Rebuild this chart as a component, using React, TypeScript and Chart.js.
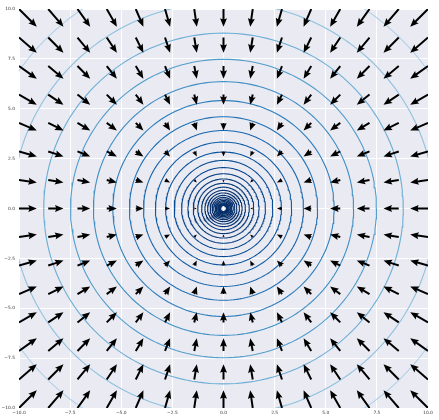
import React, { useEffect, useRef } from "react";
import { Chart, registerables } from "chart.js";

Chart.register(...registerables);

// Quiver grid positions (data units)
const gridX = [-10, -8.57, -7.14, -5.71, -4.29, -2.86, -1.43, 0, 1.43, 2.86, 4.29, 5.71, 7.14, 8.57, 10];
const gridY = [-10, -8.57, -7.14, -5.71, -4.29, -2.86, -1.43, 0, 1.43, 2.86, 4.29, 5.71, 7.14, 8.57, 10];
// Arrow components: U per column, V per row (arrows point toward the origin)
const arrowU = [10, 8.57, 7.14, 5.71, 4.29, 2.86, 1.43, 0, -1.43, -2.86, -4.29, -5.71, -7.14, -8.57, -10];
const arrowV = [10, 8.57, 7.14, 5.71, 4.29, 2.86, 1.43, 0, -1.43, -2.86, -4.29, -5.71, -7.14, -8.57, -10];
// Contour circle radii (outermost first)
const contourRadii = [
  12.15, 10.33, 8.79, 7.48, 6.36, 5.41, 4.6, 3.91, 3.33, 2.83, 2.41, 2.05, 1.74, 1.48,
  1.26, 1.07, 0.91, 0.78, 0.66, 0.56, 0.48, 0.41, 0.35, 0.29, 0.25, 0.21, 0.18, 0.15,
];
const tickValues = [-10, -7.5, -5, -2.5, 0, 2.5, 5, 7.5, 10];

// ---- styling ----
const BLUES = ["#f7fbff", "#deebf7", "#c6dbef", "#9ecae1", "#6baed6", "#4292c6", "#2171b5", "#08519c", "#08306b"];
function hexToRgb(h: string) {
  const n = parseInt(h.slice(1), 16);
  return [(n >> 16) & 255, (n >> 8) & 255, n & 255];
}
function blues(t: number) {
  const s = Math.max(0, Math.min(1, t)) * (BLUES.length - 1);
  const i = Math.min(BLUES.length - 2, Math.floor(s));
  const f = s - i;
  const a = hexToRgb(BLUES[i]);
  const b = hexToRgb(BLUES[i + 1]);
  const c = a.map((v, k) => Math.round(v + (b[k] - v) * f));
  return `rgb(${c[0]},${c[1]},${c[2]})`;
}
function ringColor(i: number, n: number) {
  const p = i / (n - 1);
  return blues(0.32 + 0.68 * (1 - Math.pow(1 - p, 4)));
}

const PX_PER_UNIT = 1.78;
const SHAFT_W = 2.0;
const HEAD_LEN = 8.5;
const HEAD_AXIS = 7.5;
const HEAD_W = 7;

const fmt = (v: number) => {
  const s = Number(v).toFixed(1);
  return s.startsWith("-") ? "\u2212" + s.slice(1) : s;
};

const bgPlugin = {
  id: "axesBg",
  beforeDraw(chart: any) {
    const { ctx, chartArea } = chart;
    ctx.save();
    ctx.fillStyle = "#EAEAF2";
    ctx.fillRect(chartArea.left, chartArea.top, chartArea.right - chartArea.left, chartArea.bottom - chartArea.top);
    ctx.restore();
  },
};

const quiverPlugin = {
  id: "quiver",
  afterDatasetsDraw(chart: any) {
    const { ctx, chartArea, scales } = chart;
    const xs = scales.x;
    const ys = scales.y;
    ctx.save();
    ctx.beginPath();
    ctx.rect(chartArea.left, chartArea.top, chartArea.right - chartArea.left, chartArea.bottom - chartArea.top);
    ctx.clip();
    ctx.fillStyle = "#000";
    gridY.forEach((yv, j) => {
      gridX.forEach((xv, i) => {
        const u = arrowU[i];
        const v = arrowV[j];
        const mag = Math.hypot(u, v);
        if (mag === 0) return;
        const L = mag * PX_PER_UNIT;
        const px = xs.getPixelForValue(xv);
        const py = ys.getPixelForValue(yv);
        const ang = Math.atan2(-v, u);
        let len = L;
        let s = 1;
        if (L < HEAD_LEN) {
          len = HEAD_LEN;
          s = L / HEAD_LEN;
        }
        const pts = [
          [0, -SHAFT_W / 2],
          [len - HEAD_AXIS, -SHAFT_W / 2],
          [len - HEAD_LEN, -HEAD_W / 2],
          [len, 0],
          [len - HEAD_LEN, HEAD_W / 2],
          [len - HEAD_AXIS, SHAFT_W / 2],
          [0, SHAFT_W / 2],
        ];
        const c = Math.cos(ang);
        const sn = Math.sin(ang);
        ctx.beginPath();
        pts.forEach(([a, b], k) => {
          const ax = a * s;
          const by = b * s;
          const X = px + ax * c - by * sn;
          const Y = py + ax * sn + by * c;
          if (k === 0) ctx.moveTo(X, Y);
          else ctx.lineTo(X, Y);
        });
        ctx.closePath();
        ctx.fill();
      });
    });
    ctx.restore();
  },
};

export default function App() {
  const ref = useRef<HTMLCanvasElement | null>(null);
  useEffect(() => {
    if (!ref.current) return;
    const n = contourRadii.length;
    const datasets = contourRadii.map((r, i) => {
      const data: { x: number; y: number }[] = [];
      for (let d = 0; d <= 360; d += 2) {
        const t = (d * Math.PI) / 180;
        data.push({ x: r * Math.cos(t), y: r * Math.sin(t) });
      }
      return {
        data,
        showLine: true,
        borderColor: ringColor(i, n),
        borderWidth: 1.1,
        pointRadius: 0,
        tension: 0,
        fill: false,
      };
    });
    const tickFont = { family: "DejaVu Sans", size: 4.4 };
    const chart = new Chart(ref.current, {
      type: "scatter",
      data: { datasets },
      options: {
        animation: false,
        responsive: false,
        events: [],
        layout: { padding: { top: 9, right: 11, left: 0, bottom: 0 } },
        plugins: { legend: { display: false }, tooltip: { enabled: false } },
        scales: {
          x: {
            type: "linear",
            min: -10,
            max: 10,
            afterBuildTicks: (sc: any) => {
              sc.ticks = tickValues.map((v) => ({ value: v }));
            },
            afterFit: (sc: any) => {
              sc.height = 12;
              sc.paddingLeft = 0;
              sc.paddingRight = 0;
            },
            ticks: {
              callback: (v: any) => fmt(v),
              font: tickFont,
              color: "#333",
              padding: 2,
              maxRotation: 0,
              autoSkip: false,
            },
            grid: { color: "#ffffff", lineWidth: 1, drawTicks: false },
            border: { display: false },
          },
          y: {
            type: "linear",
            min: -10,
            max: 10,
            afterBuildTicks: (sc: any) => {
              sc.ticks = tickValues.map((v) => ({ value: v }));
            },
            afterFit: (sc: any) => {
              sc.width = 19;
              sc.paddingTop = 0;
              sc.paddingBottom = 0;
            },
            ticks: {
              callback: (v: any) => fmt(v),
              font: tickFont,
              color: "#333",
              padding: 4,
              autoSkip: false,
            },
            grid: { color: "#ffffff", lineWidth: 1, drawTicks: false },
            border: { display: false },
          },
        },
      },
      plugins: [bgPlugin, quiverPlugin],
    } as any);
    return () => chart.destroy();
  }, []);
  return (
    <div style={{ position: "fixed", left: 0, top: 0, width: 439, height: 420, background: "#fff" }}>
      <canvas ref={ref} width={439} height={420} style={{ width: 439, height: 420, display: "block" }} />
    </div>
  );
}
